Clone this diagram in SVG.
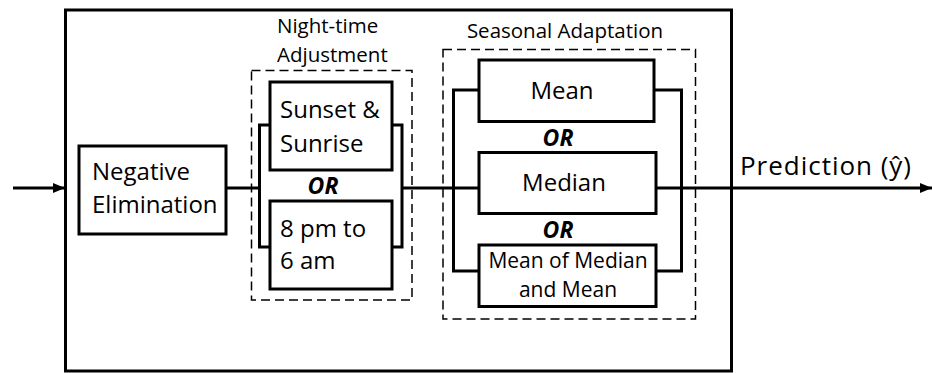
<svg xmlns="http://www.w3.org/2000/svg" width="932" height="373" viewBox="0 0 932 373">
<style>
  .box { fill: #fff; stroke: #000; stroke-width: 3; }
  .dash { fill: none; stroke: #000; stroke-width: 1.5; stroke-dasharray: 9 5; }
  .wire { fill: none; stroke: #000; stroke-width: 3; }
  text { font-family: "Open Sans", "Liberation Sans", sans-serif; fill: #000; }
  .t24 { font-size: 24px; }
  .t20 { font-size: 20.5px; }
  .t21 { font-size: 21px; }
  .or { font-size: 23px; font-weight: bold; font-style: italic; }
</style>
<defs>
  <marker id="arr" markerWidth="12" markerHeight="10" refX="12" refY="5" orient="auto" markerUnits="userSpaceOnUse">
    <path d="M0,0 L12,5 L0,10 Z" fill="#000"/>
  </marker>
</defs>
<rect width="932" height="373" fill="#fff"/>
<g id="outer">
  <rect x="65.5" y="10" width="666" height="361" fill="none" stroke="#000" stroke-width="3"/>
</g>
<g id="connectors">
  <line x1="13" y1="188" x2="65" y2="188" class="wire" marker-end="url(#arr)"/>
  <line x1="226" y1="188" x2="259" y2="188" class="wire"/>
  <path d="M270,125 H259.5 V247 H270" class="wire"/>
  <path d="M392,125 H402 V247 H392" class="wire"/>
  <line x1="402" y1="188" x2="479" y2="188" class="wire"/>
  <path d="M479,90 H453.5 V271 H479" class="wire"/>
  <path d="M654,90 H681.5 V271 H656" class="wire"/>
  <line x1="656" y1="188" x2="932" y2="188" class="wire" marker-end="url(#arr)"/>
</g>
<g id="negative-elimination">
  <rect x="79" y="146" width="147" height="88" class="box"/>
  <text x="92" y="180" class="t24">Negative</text>
  <text x="92" y="213" class="t24">Elimination</text>
</g>
<g id="night-time">
  <rect x="251.5" y="70.5" width="160.5" height="229.5" class="dash"/>
  <text x="277" y="33" class="t20">Night-time</text>
  <text x="277" y="62" class="t20">Adjustment</text>
</g>
<g id="sunset-sunrise">
  <rect x="270" y="82" width="122" height="88" class="box"/>
  <text x="280" y="118" class="t24">Sunset &amp;</text>
  <text x="280" y="152" class="t24">Sunrise</text>
</g>
<text x="323" y="194" class="or" text-anchor="middle">OR</text>
<g id="pm-am">
  <rect x="270" y="201" width="122" height="88" class="box"/>
  <text x="280" y="237" class="t24">8 pm to</text>
  <text x="280" y="269" class="t24">6 am</text>
</g>
<g id="seasonal">
  <rect x="443" y="49.5" width="252.5" height="269.5" class="dash"/>
  <text x="565" y="38" class="t20" text-anchor="middle">Seasonal Adaptation</text>
</g>
<g id="mean">
  <rect x="479" y="60" width="175" height="61.5" class="box"/>
  <text x="562" y="99" class="t24" text-anchor="middle">Mean</text>
</g>
<text x="558" y="146" class="or" text-anchor="middle">OR</text>
<g id="median">
  <rect x="479" y="152.5" width="177" height="61" class="box"/>
  <text x="564" y="191" class="t24" text-anchor="middle">Median</text>
</g>
<text x="558" y="238" class="or" text-anchor="middle">OR</text>
<g id="mean-of-median">
  <rect x="479" y="245" width="177" height="61.5" class="box"/>
  <text x="568" y="268" class="t21" text-anchor="middle">Mean of Median</text>
  <text x="568" y="297" class="t21" text-anchor="middle">and Mean</text>
</g>
<text x="740" y="175" font-size="26px" textLength="171" lengthAdjust="spacing">Prediction (ŷ)</text>
</svg>
